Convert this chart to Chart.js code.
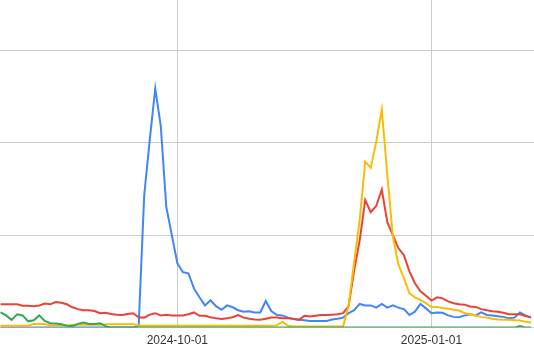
<!DOCTYPE html>
<html>
<head>
<meta charset="utf-8">
<script src="https://cdn.jsdelivr.net/npm/chart.js@4/dist/chart.umd.min.js"></script>
<style>
  html, body { margin: 0; padding: 0; background: #fff; }
  #wrap { width: 534px; height: 358px; position: relative; }
</style>
</head>
<body>
<div id="wrap"><canvas id="trendChart"></canvas></div>
<script>
// x = days relative to 2024-10-01, one point every 2 days (2024-07-29 .. 2025-02-06)
const days = Array.from({ length: 97 }, (_, i) => -64 + 2 * i);

const tickDays = [0, 92];
const tickLabels = ["2024-10-01", "2025-01-01"];
const gridValues = [0, 25, 50, 75];

const seriesBlue = [
  0, 0, 0, 0, 0, 0, 0, 0, 0, 0,
  0, 0, 0, 0, 0, 0, 0, 0, 0, 0,
  0, 0, 0, 0, 0, 0.5, 35.8, 50.7, 64.7, 54.5,
  32.6, 25.0, 17.4, 15.0, 14.7, 10.6, 8.2, 6.0, 7.4, 5.8,
  4.8, 6.0, 5.5, 4.7, 4.3, 4.4, 4.1, 4.1, 7.2, 4.5,
  3.4, 3.3, 2.7, 2.3, 2.1, 2.0, 1.8, 1.8, 1.8, 1.8,
  2.2, 2.4, 2.7, 3.9, 4.7, 6.4, 6.0, 6.0, 5.4, 6.4,
  5.4, 6.0, 5.4, 5.0, 3.4, 4.3, 6.4, 5.2, 3.9, 4.1,
  4.0, 3.3, 2.9, 2.8, 3.3, 3.6, 3.3, 4.1, 3.4, 3.3,
  3.1, 2.9, 2.5, 2.7, 4.1, 3.3, 2.7
];
const seriesRed = [
  6.3, 6.3, 6.3, 6.3, 5.9, 5.9, 5.8, 6.0, 6.5, 6.3,
  6.9, 6.7, 6.3, 5.5, 5.0, 4.7, 4.7, 4.5, 3.9, 4.0,
  3.7, 3.5, 3.4, 3.7, 3.9, 2.8, 2.7, 3.5, 3.9, 3.3,
  3.5, 3.3, 3.3, 3.3, 3.6, 4.1, 3.2, 3.2, 2.8, 2.5,
  2.3, 2.5, 2.8, 3.4, 2.7, 2.4, 2.2, 2.1, 2.4, 2.7,
  2.7, 2.5, 2.5, 2.4, 2.1, 3.2, 3.0, 3.2, 3.4, 3.4,
  3.5, 3.6, 3.9, 5.8, 15.5, 23.6, 34.5, 31.2, 32.9, 37.3,
  28.5, 25.0, 21.5, 19.6, 15.2, 12.0, 9.8, 8.6, 7.3, 8.2,
  7.9, 7.1, 6.6, 6.3, 6.2, 5.7, 5.6, 5.0, 4.7, 4.4,
  4.3, 4.0, 3.6, 3.6, 3.6, 3.1, 2.8
];
const seriesYellow = [
  0.5, 0.5, 0.5, 0.5, 0.5, 0.5, 1.0, 1.0, 1.0, 0.6,
  0.6, 0.6, 0.6, 0.8, 0.8, 0.8, 0.8, 0.8, 0.8, 0.9,
  0.9, 0.9, 0.9, 0.9, 1.0, 0.5, 0.5, 0.5, 0.5, 0.5,
  0.5, 0.5, 0.5, 0.5, 0.5, 0.5, 0.5, 0.5, 0.5, 0.5,
  0.5, 0.5, 0.5, 0.5, 0.5, 0.5, 0.5, 0.5, 0.5, 0.5,
  0.6, 1.6, 0.5, 0.3, 0.3, 0.3, 0.3, 0.3, 0.3, 0.3,
  0.3, 0.3, 0.3, 6.0, 17.7, 29.1, 44.9, 43.2, 50.2, 59.0,
  41.3, 24.7, 17.1, 13.4, 9.3, 8.2, 7.4, 6.6, 5.5, 5.6,
  5.3, 5.1, 4.8, 4.6, 3.9, 3.6, 3.3, 2.9, 2.7, 2.4,
  2.2, 2.1, 2.1, 2.0, 1.9, 1.6, 1.4
];
const seriesGreen = [
  4.1, 3.3, 2.1, 3.6, 3.3, 1.7, 2.0, 3.3, 1.8, 1.2,
  1.1, 0.9, 0.5, 0.4, 1.0, 1.4, 1.0, 1.0, 1.2, 0.4,
  0, 0, 0, 0, 0, 0, 0, 0, 0, 0,
  0, 0, 0, 0, 0, 0, 0, 0, 0, 0,
  0, 0, 0, 0, 0, 0, 0, 0, 0, 0,
  0, 0, 0, 0, 0, 0, 0, 0, 0, 0,
  0, 0, 0, 0, 0, 0, 0, 0, 0, 0,
  0, 0, 0, 0, 0, 0, 0, 0, 0, 0,
  0, 0, 0, 0, 0, 0, 0, 0, 0, 0,
  0, 0, 0, 0, 0.4, 0, 0
];

function toPoints(values) {
  return values.map((v, i) => ({ x: days[i], y: v }));
}

function line(label, values, color, order) {
  return {
    label: label,
    data: toPoints(values),
    borderColor: color,
    backgroundColor: color,
    borderWidth: 2,
    pointRadius: 0,
    tension: 0,
    order: order,
  };
}

const ctx = document.getElementById("trendChart").getContext("2d");
new Chart(ctx, {
  type: "line",
  data: {
    datasets: [
      line("Green", seriesGreen, "#34a853", 0),
      line("Yellow", seriesYellow, "#fbbc04", 1),
      line("Red", seriesRed, "#ea4335", 2),
      line("Blue", seriesBlue, "#4285f4", 3),
    ],
  },
  options: {
    responsive: true,
    maintainAspectRatio: false,
    animation: false,
    layout: { padding: { left: 0, right: 0, top: 0, bottom: 4 } },
    plugins: {
      legend: { display: false },
      tooltip: { enabled: false },
    },
    scales: {
      x: {
        type: "linear",
        min: -64.2,
        max: 129.1,
        afterBuildTicks: (scale) => {
          scale.ticks = tickDays.map((v) => ({ value: v }));
        },
        ticks: {
          autoSkip: false,
          maxRotation: 0,
          padding: 6,
          color: "#333",
          font: { family: "'Liberation Sans', Arial, sans-serif", size: 12 },
          callback: (v) => tickLabels[tickDays.indexOf(v)],
        },
        grid: { color: "#cccccc", drawTicks: false },
        border: { display: false },
      },
      y: {
        min: 0,
        max: 88.6,
        afterBuildTicks: (scale) => {
          scale.ticks = gridValues.map((v) => ({ value: v }));
        },
        ticks: { display: false },
        grid: { color: "#cccccc", drawTicks: false },
        border: { display: false },
      },
    },
  },
});
</script>
</body>
</html>
